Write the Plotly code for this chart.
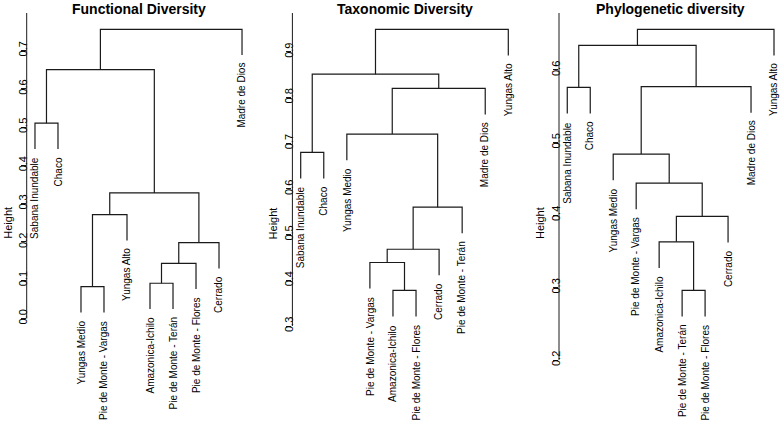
import plotly.graph_objects as go

# ---------------- data ----------------
titles = ["Functional Diversity", "Taxonomic Diversity", "Phylogenetic diversity"]

func_labels = ["Sabana Inundable", "Chaco", "Yungas Medio", "Pie de Monte - Vargas", "Yungas Alto",
               "Amazonica-Ichilo", "Pie de Monte - Terán", "Pie de Monte - Flores", "Cerrado", "Madre de Dios"]
func_merge = [(-3, -4), (-6, -7), (2, -8), (3, -9), (1, -5), (5, 4), (-1, -2), (7, 6), (8, -10)]
func_height = [0.083, 0.092, 0.144, 0.198, 0.271, 0.328, 0.510, 0.650, 0.755]
func_ticks = [0.0, 0.1, 0.2, 0.3, 0.4, 0.5, 0.6, 0.7]
func_ticktext = ["0.0", "0.1", "0.2", "0.3", "0.4", "0.5", "0.6", "0.7"]

tax_labels = ["Sabana Inundable", "Chaco", "Yungas Medio", "Pie de Monte - Vargas", "Amazonica-Ichilo",
              "Pie de Monte - Flores", "Cerrado", "Pie de Monte - Terán", "Madre de Dios", "Yungas Alto"]
tax_merge = [(-5, -6), (-4, 1), (2, -7), (3, -8), (-1, -2), (-3, 4), (6, -9), (5, 7), (8, -10)]
tax_height = [0.378, 0.439, 0.468, 0.560, 0.680, 0.720, 0.820, 0.851, 0.949]
tax_ticks = [0.3, 0.4, 0.5, 0.6, 0.7, 0.8, 0.9]
tax_ticktext = ["0.3", "0.4", "0.5", "0.6", "0.7", "0.8", "0.9"]

phy_labels = ["Sabana Inundable", "Chaco", "Yungas Medio", "Pie de Monte - Vargas", "Amazonica-Ichilo",
              "Pie de Monte - Terán", "Pie de Monte - Flores", "Cerrado", "Madre de Dios", "Yungas Alto"]
phy_merge = [(-6, -7), (-5, 1), (2, -8), (-4, 3), (-3, 4), (-1, -2), (5, -9), (6, 7), (8, -10)]
phy_height = [0.296, 0.363, 0.398, 0.444, 0.484, 0.576, 0.577, 0.634, 0.656]
phy_ticks = [0.2, 0.3, 0.4, 0.5, 0.6]
phy_ticktext = ["0.2", "0.3", "0.4", "0.5", "0.6"]

panels = [
    (func_labels, func_merge, func_height, func_ticks, func_ticktext),
    (tax_labels, tax_merge, tax_height, tax_ticks, tax_ticktext),
    (phy_labels, phy_merge, phy_height, phy_ticks, phy_ticktext),
]

# ---------------- layout geometry ----------------
W, H = 781, 427
MT, MB = 13, 0
x_domains_px = [(26.7, 250.3), (292.4, 516.6), (559.0, 781.0)]
x_ranges = [(0.64, 10.36), (0.64, 10.36), (0.64, 0.64 + (781 - 559) / 22.97)]
y_ranges = [(-0.2833, 0.7977), (0.0790, 0.9849), (0.1076, 0.6786)]

FONT = "Liberation Sans, Arial, Helvetica, sans-serif"
LINE = dict(color="#1a1a1a", width=1.2)

fig = go.Figure()
annotations = []
shapes = []

for p, (labels, merge, height, ticks, ticktext) in enumerate(panels):
    sfx = "" if p == 0 else str(p + 1)
    xa, ya = "x" + sfx, "y" + sfx
    hang = 0.1 * (max(height) - min(height))
    node_x, node_y = {}, {}
    leaf_y = {}
    xs, ys = [], []

    def child_pos(c, h):
        if c < 0:
            i = -c
            yb = h - hang
            leaf_y[i] = yb
            return float(i), yb
        return node_x[c], node_y[c]

    for k, ((a, b), h) in enumerate(zip(merge, height), start=1):
        xa_, ya_ = child_pos(a, h)
        xb_, yb_ = child_pos(b, h)
        xs += [xa_, xa_, xb_, xb_, None]
        ys += [ya_, h, h, yb_, None]
        node_x[k] = (xa_ + xb_) / 2
        node_y[k] = h

    fig.add_trace(go.Scatter(x=xs, y=ys, mode="lines", line=LINE, xaxis=xa, yaxis=ya,
                             hoverinfo="skip", showlegend=False, cliponaxis=False))

    for i, lab in enumerate(labels, start=1):
        annotations.append(dict(x=i, y=leaf_y[i], xref=xa, yref=ya, text=lab, showarrow=False,
                                textangle=-90, xanchor="center", yanchor="top", yshift=-6,
                                font=dict(family=FONT, size=10, color="black")))

    d0, d1 = x_domains_px[p]
    annotations.append(dict(x=0.5, y=1, xref=xa + " domain", yref="paper", text="<b>" + titles[p] + "</b>",
                            showarrow=False, xanchor="center", yanchor="middle", yshift=4,
                            font=dict(family=FONT, size=14, color="black")))
    annotations.append(dict(x=0, y=(H - 223) / (H - MT - MB), xref=xa + " domain", yref="paper", text="Height",
                            showarrow=False, textangle=-90, xanchor="center", yanchor="middle", xshift=-19,
                            font=dict(family=FONT, size=11, color="black")))

    shapes.append(dict(type="line", xref=xa + " domain", yref=ya, x0=0, x1=0,
                       y0=min(ticks), y1=y_ranges[p][1], line=dict(color="#1a1a1a", width=1)))

    fig.update_layout(**{
        ("xaxis" + sfx): dict(domain=[d0 / W, d1 / W], range=list(x_ranges[p]), visible=False,
                              anchor=ya),
        ("yaxis" + sfx): dict(domain=[0, 1], range=list(y_ranges[p]), anchor=xa,
                              tickvals=ticks, ticktext=ticktext, ticks="outside", ticklen=5,
                              tickcolor="#1a1a1a", tickwidth=1, tickangle=-90,
                              showgrid=False, zeroline=False, showline=False,
                              ticklabelstandoff=-11,
                              tickfont=dict(family=FONT, size=11, color="black")),
    })

fig.update_layout(width=W, height=H, margin=dict(l=0, r=0, t=MT, b=MB),
                  paper_bgcolor="white", plot_bgcolor="white",
                  annotations=annotations, shapes=shapes, showlegend=False)

fig.write_html("out.html", config={"displayModeBar": False},
               post_script="document.body.style.margin='0';document.body.style.overflow='hidden';")
